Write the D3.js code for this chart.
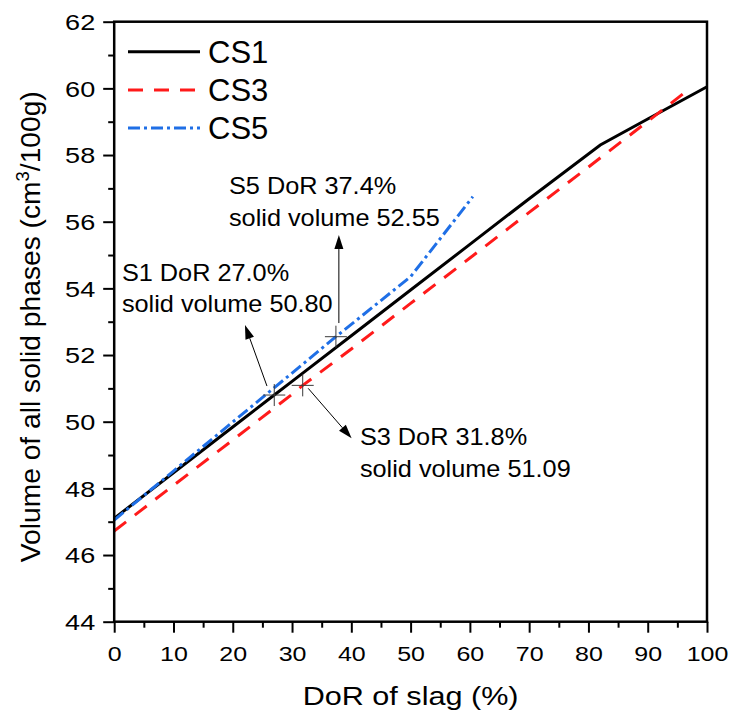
<!DOCTYPE html>
<html>
<head>
<meta charset="utf-8">
<script src="https://cdn.jsdelivr.net/npm/d3@7"></script>
<style>
  body { margin: 0; background: #fff; }
  svg { display: block; }
  text { font-family: Arial, "Liberation Sans", sans-serif; fill: #000; }
</style>
</head>
<body>
<svg id="chart" width="731" height="715"></svg>
<script>
// Degree of reaction of slag (%) and total solid-phase volume (cm3/100g)
const dorCS1 = [0, 10, 20, 27.0, 30, 40, 50, 60, 70, 82, 90, 100];
const volCS1 = [47.10, 48.47, 49.84, 50.80, 51.21, 52.58, 53.95, 55.32, 56.69, 58.30, 59.08, 60.05];

const dorCS3 = [0, 10, 20, 30, 31.8, 40, 50, 60, 70, 80, 90, 96.2];
const volCS3 = [46.72, 48.09, 49.45, 50.82, 51.09, 52.18, 53.55, 54.91, 56.28, 57.64, 59.01, 59.87];

const dorCS5 = [0, 10, 20, 30, 37.4, 50, 60.5];
const volCS5 = [47.05, 48.52, 49.99, 51.46, 52.55, 54.35, 56.75];

const seriesNames = ["CS1", "CS3", "CS5"];

// Marked sample points
const markNames = ["S1", "S3", "S5"];
const markDoR = [27.0, 31.8, 37.4];
const markVol = [50.80, 51.09, 52.55];

const xTickValues = [0, 10, 20, 30, 40, 50, 60, 70, 80, 90, 100];
const xMinorValues = [5, 15, 25, 35, 45, 55, 65, 75, 85, 95];
const yTickValues = [44, 46, 48, 50, 52, 54, 56, 58, 60, 62];
const yMinorValues = [45, 47, 49, 51, 53, 55, 57, 59, 61];

const xTitle = "DoR of slag (%)";

// ---- layout & style ----
const plot = { left: 114.2, top: 21.7, right: 707, bottom: 621.7 };
const styles = [
  { color: "#000000", dash: null },
  { color: "#ff1a1a", dash: "15,11" },
  { color: "#1f6fe6", dash: "12,4,3,4" }
];

const svg = d3.select("#chart");
const x = d3.scaleLinear().domain([0, 100]).range([plot.left, plot.right]);
const y = d3.scaleLinear().domain([44, 62]).range([plot.bottom, plot.top]);

// widen glyphs horizontally while keeping the anchor point in place
function stretch(sel, sx) {
  sel.each(function () {
    const t = d3.select(this);
    const x0 = +t.attr("x") || 0;
    t.attr("x", x0 / sx).attr("transform", `scale(${sx},1)`);
  });
}

// ---- series ----
const series = [
  dorCS1.map((d, i) => [d, volCS1[i]]),
  dorCS3.map((d, i) => [d, volCS3[i]]),
  dorCS5.map((d, i) => [d, volCS5[i]])
];
const line = d3.line().x(d => x(d[0])).y(d => y(d[1]));

svg.append("g").selectAll("path").data(series).join("path")
  .attr("d", line)
  .attr("fill", "none")
  .attr("stroke", (d, i) => styles[i].color)
  .attr("stroke-width", 3)
  .attr("stroke-dasharray", (d, i) => styles[i].dash);

// ---- axes ----
const yAxis = svg.append("g").attr("transform", `translate(${plot.left},0)`)
  .call(d3.axisLeft(y).tickValues(yTickValues).tickSize(11).tickPadding(8));
svg.append("g").attr("transform", `translate(${plot.left},0)`)
  .call(d3.axisLeft(y).tickValues(yMinorValues).tickSize(6).tickFormat(""))
  .call(g => g.select(".domain").remove())
  .selectAll("line").attr("stroke-width", 2);
yAxis.select(".domain").remove();
yAxis.selectAll("line").attr("stroke-width", 2);
yAxis.selectAll("text")
  .attr("font-size", 21.5).attr("font-family", "Arial, 'Liberation Sans', sans-serif")
  .attr("dy", "0.36em").attr("fill", "#000")
  .call(stretch, 1.26);

const xAxis = svg.append("g").attr("transform", `translate(0,${plot.bottom})`)
  .call(d3.axisBottom(x).tickValues(xTickValues).tickSize(11));
svg.append("g").attr("transform", `translate(0,${plot.bottom})`)
  .call(d3.axisBottom(x).tickValues(xMinorValues).tickSize(6).tickFormat(""))
  .call(g => g.select(".domain").remove())
  .selectAll("line").attr("stroke-width", 2);
xAxis.select(".domain").remove();
xAxis.selectAll("line").attr("stroke-width", 2);
xAxis.selectAll("text")
  .attr("font-size", 20.5).attr("font-family", "Arial, 'Liberation Sans', sans-serif")
  .attr("y", 24.5).attr("dy", "0.71em").attr("fill", "#000")
  .call(stretch, 1.22);

// frame
svg.append("rect")
  .attr("x", plot.left).attr("y", plot.top)
  .attr("width", plot.right - plot.left).attr("height", plot.bottom - plot.top)
  .attr("fill", "none").attr("stroke", "#000").attr("stroke-width", 2.5);

// axis titles
svg.append("g").attr("transform", `translate(${(plot.left + plot.right) / 2},705)`)
  .append("text").attr("text-anchor", "middle").attr("font-size", 25.5)
  .text(xTitle).call(stretch, 1.2);

const yt = svg.append("text")
  .attr("transform", `translate(39.5,${(plot.top + plot.bottom) / 2 + 5}) rotate(-90)`)
  .attr("text-anchor", "middle").attr("font-size", 28.2);
yt.append("tspan").text("Volume of all solid phases (cm");
yt.append("tspan").attr("dy", -11).attr("font-size", 18.5).text("3");
yt.append("tspan").attr("dy", 11).text("/100g)");

// ---- legend ----
const legend = svg.append("g").attr("transform", "translate(128,51.7)");
seriesNames.forEach((name, i) => {
  const row = legend.append("g").attr("transform", `translate(0,${i * 38.2})`);
  row.append("line").attr("x1", 0).attr("x2", 72)
    .attr("stroke", styles[i].color).attr("stroke-width", 3)
    .attr("stroke-dasharray", styles[i].dash);
  row.append("text").attr("x", 80).attr("y", 11).attr("font-size", 31).text(name);
});

// ---- marked points: crosshairs, arrows and labels ----
const notes = [
  { from: [25.77, 51.07], to: [22.06, 52.90], text: [1.3, 54.23] },   // S1
  { from: [32.73, 51.00], to: [40.05, 49.50], text: [41.45, 49.30] }, // S3
  { from: [37.90, 52.96], to: [37.90, 55.60], text: [19.36, 56.83] }  // S5
];

const ann = svg.append("g");
markDoR.forEach((d, i) => {
  const cx = x(d), cy = y(markVol[i]);
  ann.append("path")
    .attr("d", `M${cx - 11},${cy}H${cx + 11}M${cx},${cy - 11}V${cy + 11}`)
    .attr("stroke", "#3a3a3a").attr("stroke-width", 1).attr("fill", "none");

  const n = notes[i];
  const x1 = x(n.from[0]), y1 = y(n.from[1]);
  const x2 = x(n.to[0]), y2 = y(n.to[1]);
  const ang = Math.atan2(y2 - y1, x2 - x1);
  const len = 14, hw = 4.5;
  const bx = x2 - len * Math.cos(ang), by = y2 - len * Math.sin(ang);
  ann.append("line").attr("x1", x1).attr("y1", y1).attr("x2", bx).attr("y2", by)
    .attr("stroke", "#000").attr("stroke-width", 1);
  ann.append("path")
    .attr("d", `M${x2},${y2}L${bx - hw * Math.sin(ang)},${by + hw * Math.cos(ang)}L${bx + hw * Math.sin(ang)},${by - hw * Math.cos(ang)}Z`)
    .attr("fill", "#000");

  const tg = ann.append("g").attr("transform", `translate(${x(n.text[0])},${y(n.text[1])})`);
  tg.append("text").attr("font-size", 23)
    .text(`${markNames[i]} DoR ${d.toFixed(1)}%`).call(stretch, 1.1);
  tg.append("text").attr("y", 31.5).attr("font-size", 23)
    .text(`solid volume ${markVol[i].toFixed(2)}`).call(stretch, 1.1);
});
</script>
</body>
</html>
